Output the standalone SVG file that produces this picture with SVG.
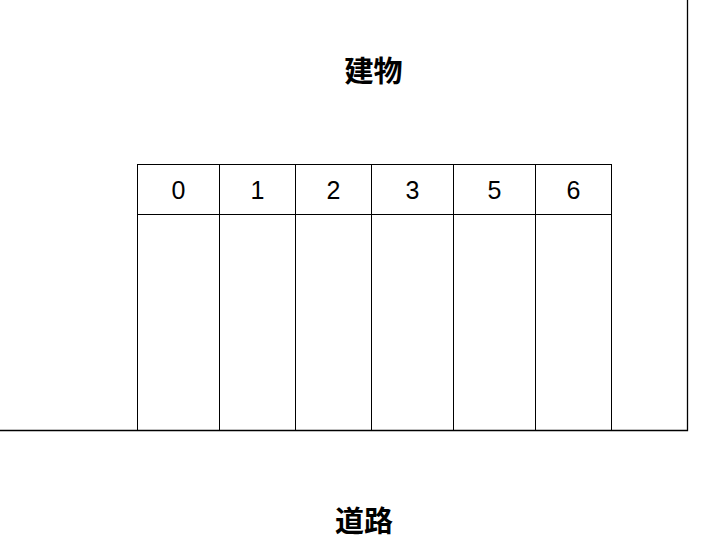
<svg xmlns="http://www.w3.org/2000/svg" width="720" height="557" viewBox="0 0 720 557">
<style>
.ln{stroke:#000;stroke-width:1;fill:none}
.ol{stroke:#000;stroke-width:1.3;fill:none}
.num{font-family:"Liberation Sans Narrow","Liberation Sans","Noto Sans",sans-serif;font-size:25px;text-anchor:middle;fill:#000}
.ttl{font-family:"Noto Sans CJK JP","Noto Sans CJK SC",sans-serif;font-size:29px;font-weight:bold;text-anchor:middle;fill:#000}
</style>
<rect width="720" height="557" fill="#fff"/>
<g id="boundary">
<path class="ol" d="M0,430.5 H687.5 V0"/>
</g>
<g id="building-label"><text class="ttl" x="373.5" y="82">建物</text></g>
<g id="road-label"><text class="ttl" x="364" y="532">道路</text></g>
<g id="table">
<rect class="ln" x="137.5" y="164.5" width="474" height="266"/>
<line class="ln" x1="137.5" y1="214.5" x2="611.5" y2="214.5"/>
</g>
<g id="connectors">
<line class="ln" x1="219.5" y1="164.5" x2="219.5" y2="430.5"/>
<line class="ln" x1="295.5" y1="164.5" x2="295.5" y2="430.5"/>
<line class="ln" x1="371.5" y1="164.5" x2="371.5" y2="430.5"/>
<line class="ln" x1="453.5" y1="164.5" x2="453.5" y2="430.5"/>
<line class="ln" x1="535.5" y1="164.5" x2="535.5" y2="430.5"/>
</g>
<g id="slot-0"><text class="num" x="178.5" y="198.5">0</text></g>
<g id="slot-1"><text class="num" x="257.5" y="198.5">1</text></g>
<g id="slot-2"><text class="num" x="333.5" y="198.5">2</text></g>
<g id="slot-3"><text class="num" x="412.5" y="198.5">3</text></g>
<g id="slot-5"><text class="num" x="494.5" y="198.5">5</text></g>
<g id="slot-6"><text class="num" x="573.5" y="198.5">6</text></g>
</svg>
